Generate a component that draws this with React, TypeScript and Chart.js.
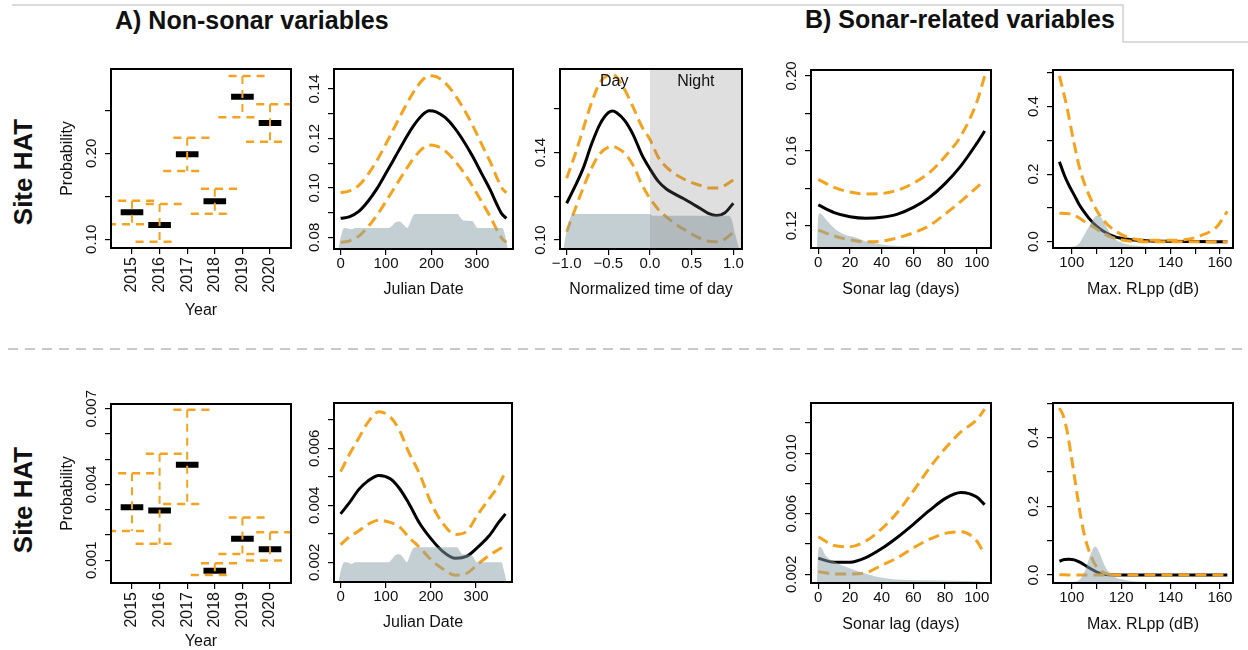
import React, { useEffect, useRef } from "react";
import { Chart, registerables } from "chart.js";

Chart.register(...registerables);

const FONT = '"Liberation Sans", Arial, Helvetica, sans-serif';
const ORANGE = "#f5a31e";
const GRAY = "rgba(138,160,168,0.5)";
const NIGHT = "rgba(120,120,120,0.24)";

// ---------- Year effect ----------
const years = [2015, 2016, 2017, 2018, 2019, 2020];
const yearTickLabels = ["2015", "2016", "2017", "2018", "2019", "2020"];
const yearEstTop = [0.1314, 0.1166, 0.1988, 0.1442, 0.2658, 0.2352];
const yearUpTop = [0.1449, 0.141, 0.2181, 0.1588, 0.2899, 0.257];
const yearLoTop = [0.1174, 0.0972, 0.1794, 0.1298, 0.2419, 0.2135];
const yearEstBot = [0.0031, 0.00297, 0.00478, 0.00059, 0.00185, 0.00144];
const yearUpBot = [0.00445, 0.00522, 0.00696, 0.00088, 0.00269, 0.00211];
const yearLoBot = [0.00216, 0.00165, 0.00323, 0.00042, 0.00125, 0.00099];

// ---------- Julian date ----------
const julXTop = [0, 20, 40, 60, 80, 100, 120, 140, 160, 180, 195, 210, 230, 250, 270, 290, 310, 330, 345, 355, 365];
const julFitTop = [0.0877, 0.0884, 0.0905, 0.0945, 0.0997, 0.106, 0.1125, 0.119, 0.125, 0.1295, 0.1312, 0.1308, 0.1285, 0.1245, 0.1192, 0.113, 0.106, 0.099, 0.093, 0.0895, 0.0877];
const julUpTop = [0.098, 0.0988, 0.101, 0.1054, 0.1111, 0.1179, 0.125, 0.1321, 0.1386, 0.1436, 0.1454, 0.145, 0.1425, 0.1381, 0.1323, 0.1256, 0.1179, 0.1103, 0.1038, 0.1, 0.098];
const julLoTop = [0.078, 0.0786, 0.0805, 0.0842, 0.0889, 0.0946, 0.1005, 0.1063, 0.1118, 0.1159, 0.1174, 0.117, 0.115, 0.1113, 0.1065, 0.1009, 0.0946, 0.0882, 0.0827, 0.0796, 0.078];
const julGrayX = [-5, 2, 8, 16, 24, 32, 106, 114, 122, 130, 138, 147, 153, 160, 166, 258, 264, 270, 290, 296, 302, 356, 362, 368];
const julGrayTop = [0.0755, 0.0815, 0.0838, 0.0836, 0.0832, 0.0838, 0.0838, 0.0848, 0.0862, 0.0864, 0.0852, 0.0838, 0.086, 0.089, 0.0895, 0.0895, 0.088, 0.0868, 0.0866, 0.085, 0.0838, 0.0838, 0.081, 0.0755];
const julXBot = [0, 20, 40, 60, 85, 110, 130, 150, 175, 200, 225, 255, 280, 305, 330, 350, 365];
const julFitBot = [0.0037, 0.0041, 0.00455, 0.00485, 0.00505, 0.00493, 0.0046, 0.0041, 0.00337, 0.00283, 0.0024, 0.00214, 0.00222, 0.00255, 0.00295, 0.0034, 0.0037];
const julUpBot = [0.00518, 0.0058, 0.00635, 0.0069, 0.00728, 0.0071, 0.00664, 0.0059, 0.0051, 0.0041, 0.0034, 0.00298, 0.0031, 0.0037, 0.00425, 0.0047, 0.00518];
const julLoBot = [0.00262, 0.0029, 0.0031, 0.00333, 0.00348, 0.0034, 0.00325, 0.0029, 0.00252, 0.0021, 0.00178, 0.00155, 0.00162, 0.00195, 0.00225, 0.00245, 0.0026];
const julGrayBot = [0.0013, 0.0018, 0.002, 0.00199, 0.00194, 0.002, 0.002, 0.00212, 0.00226, 0.00228, 0.00218, 0.002, 0.00222, 0.00248, 0.00253, 0.00253, 0.0024, 0.00228, 0.00226, 0.00212, 0.002, 0.002, 0.0017, 0.0013];

// ---------- Normalized time of day ----------
const todX = [-1.0, -0.9, -0.8, -0.7, -0.6, -0.5, -0.45, -0.4, -0.3, -0.2, -0.1, 0.0, 0.1, 0.2, 0.3, 0.4, 0.5, 0.6, 0.7, 0.8, 0.9, 1.0];
const todFit = [0.1168, 0.1245, 0.133, 0.144, 0.153, 0.1582, 0.159, 0.1582, 0.1545, 0.148, 0.1392, 0.1325, 0.1268, 0.1232, 0.121, 0.119, 0.1168, 0.1145, 0.1122, 0.1112, 0.1125, 0.1168];
const todUp = [0.1282, 0.139, 0.151, 0.163, 0.172, 0.1755, 0.1758, 0.1745, 0.1685, 0.1605, 0.152, 0.146, 0.1378, 0.1332, 0.1302, 0.128, 0.1262, 0.125, 0.1238, 0.1238, 0.125, 0.1275];
const todLo = [0.1038, 0.114, 0.124, 0.133, 0.1395, 0.1425, 0.1428, 0.1422, 0.1395, 0.134, 0.1255, 0.119, 0.114, 0.1105, 0.1075, 0.105, 0.1028, 0.1008, 0.0995, 0.0992, 0.1005, 0.1035];
const todGrayX = [-1.04, -1.0, -0.96, -0.92, 0.0, 0.03, 0.94, 0.98, 1.02, 1.07];
const todGray = [0.0959, 0.104, 0.11, 0.1119, 0.1119, 0.1111, 0.1111, 0.1095, 0.103, 0.0959];
const nightRange = [0, 1.104];

// ---------- Sonar lag ----------
const lagX = [0, 10, 20, 30, 40, 50, 60, 70, 80, 90, 100, 105];
const lagFitTop = [0.1311, 0.127, 0.1248, 0.124, 0.1245, 0.1262, 0.1298, 0.135, 0.1425, 0.152, 0.164, 0.1706];
const lagUpTop = [0.1448, 0.1405, 0.138, 0.137, 0.1372, 0.139, 0.1427, 0.1483, 0.157, 0.168, 0.186, 0.2];
const lagLoTop = [0.1177, 0.1145, 0.1124, 0.1114, 0.1118, 0.1135, 0.1162, 0.12, 0.1262, 0.133, 0.1405, 0.1444];
const lagGrayX = [-0.8, 0, 1, 5, 11, 17, 22, 30, 40, 55, 80, 108];
const lagGrayTop = [0.1081, 0.125, 0.1266, 0.1232, 0.118, 0.1152, 0.1141, 0.1117, 0.11, 0.109, 0.1086, 0.1083];
const lagFitBot = [0.00306, 0.0028, 0.0028, 0.0031, 0.0037, 0.00445, 0.0053, 0.0062, 0.007, 0.0074, 0.0071, 0.0066];
const lagUpBot = [0.00448, 0.0039, 0.00382, 0.0042, 0.005, 0.0061, 0.0075, 0.009, 0.0103, 0.0114, 0.0122, 0.0129];
const lagLoBot = [0.00217, 0.00203, 0.00202, 0.0021, 0.0026, 0.0031, 0.00375, 0.0043, 0.0047, 0.00481, 0.0042, 0.0033];
const lagGrayBotX = [-0.8, 0, 1, 5, 10, 16, 26, 37, 47, 68, 105, 109];
const lagGrayBot = [0.00143, 0.0036, 0.00382, 0.0032, 0.00285, 0.00255, 0.00217, 0.00184, 0.00167, 0.0016, 0.0015, 0.00145];

// ---------- Max. RLpp ----------
const rlFitTopX = [95, 97, 99, 101, 103, 105, 107, 110, 113, 116, 120, 125, 130, 140, 150, 163];
const rlFitTop = [0.237, 0.197, 0.165, 0.138, 0.11, 0.088, 0.069, 0.046, 0.03, 0.019, 0.01, 0.005, 0.003, 0.001, 0.0005, 0.0];
const rlUpTopX = [95, 98, 100.7, 103.4, 106.7, 110, 113, 117, 123, 130, 140, 147, 153, 158.7, 163];
const rlUpTop = [0.491, 0.4, 0.3, 0.212, 0.143, 0.094, 0.062, 0.035, 0.012, 0.005, 0.004, 0.007, 0.02, 0.044, 0.09];
const rlLoTopX = [95, 99, 101, 103.4, 106, 108.7, 112, 115.5, 119, 122.3, 130, 163];
const rlLoTop = [0.084, 0.083, 0.078, 0.069, 0.055, 0.044, 0.028, 0.015, 0.007, 0.003, 0.0, 0.0];
const rlGrayTopX = [95, 100, 103, 105, 107, 109, 110.5, 112, 114, 116, 118, 121, 126, 135, 150, 163];
const rlGrayTop = [-0.0187, -0.015, -0.005, 0.02, 0.045, 0.07, 0.078, 0.07, 0.045, 0.02, 0.005, -0.005, -0.012, -0.016, -0.018, -0.0187];
const rlFitBotX = [95, 97, 99, 101, 103, 105, 107, 109, 111, 113, 115, 120, 163];
const rlFitBot = [0.04, 0.045, 0.046, 0.044, 0.038, 0.03, 0.021, 0.013, 0.006, 0.002, 0.0005, 0.0, 0.0];
const rlUpBotX = [95, 96.5, 98, 99.5, 101, 102.5, 104, 105.5, 107, 109, 111, 114, 118];
const rlUpBot = [0.486, 0.465, 0.423, 0.36, 0.29, 0.22, 0.155, 0.105, 0.07, 0.036, 0.016, 0.004, 0.0];
const rlLoBotX = [95, 100, 163];
const rlLoBot = [0.001, 0.0, 0.0];
const rlGrayBotX = [95, 101, 103.5, 105.5, 107.5, 109.5, 111.5, 113.5, 115.5, 118, 122, 130, 163];
const rlGrayBot = [-0.0233, -0.02, -0.012, 0.015, 0.058, 0.083, 0.06, 0.025, 0.005, -0.008, -0.015, -0.02, -0.0233];

// ---------- Axis ticks ----------
const yTicksP1 = [0.1, 0.15, 0.2, 0.25];
const yLabelsP1 = ["0.10", "", "0.20", ""];
const yTicksP2 = [0.08, 0.09, 0.1, 0.11, 0.12, 0.13, 0.14];
const yLabelsP2 = ["0.08", "", "0.10", "", "0.12", "", "0.14"];
const yTicksP3 = [0.1, 0.12, 0.14, 0.16];
const yLabelsP3 = ["0.10", "", "0.14", ""];
const yTicksP4 = [0.12, 0.14, 0.16, 0.18, 0.2];
const yLabelsP4 = ["0.12", "", "0.16", "", "0.20"];
const yTicksRL = [0, 0.1, 0.2, 0.3, 0.4, 0.5];
const yLabelsRL = ["0.0", "", "0.2", "", "0.4", ""];
const yTicksP6 = [0.001, 0.002, 0.003, 0.004, 0.005, 0.006, 0.007];
const yLabelsP6 = ["0.001", "", "", "0.004", "", "", "0.007"];
const yTicksP7 = [0.002, 0.003, 0.004, 0.005, 0.006, 0.007];
const yLabelsP7 = ["0.002", "", "0.004", "", "0.006", ""];
const yTicksP8 = [0.002, 0.004, 0.006, 0.008, 0.01, 0.012];
const yLabelsP8 = ["0.002", "", "0.006", "", "0.010", ""];
const xTicksJul = [0, 100, 200, 300];
const xLabelsJul = ["0", "100", "200", "300"];
const xTicksTod = [-1, -0.5, 0, 0.5, 1];
const xLabelsTod = ["\u22121.0", "\u22120.5", "0.0", "0.5", "1.0"];
const xTicksLag = [0, 20, 40, 60, 80, 100];
const xLabelsLag = ["0", "20", "40", "60", "80", "100"];
const xTicksRL = [100, 110, 120, 130, 140, 150, 160];
const xLabelsRL = ["100", "", "120", "", "140", "", "160"];

// ---------- dataset builders ----------
const pts = (xs: number[], ys: number[]) => xs.map((x, i) => ({ x, y: ys[i] }));
const fitLine = (xs: number[], ys: number[]) => ({
  data: pts(xs, ys), borderColor: "#000", borderWidth: 3, pointRadius: 0, fill: false,
  cubicInterpolationMode: "monotone", order: 2, clip: 0,
});
const ciLine = (xs: number[], ys: number[]) => ({
  data: pts(xs, ys), borderColor: ORANGE, borderWidth: 3, borderDash: [11, 6], pointRadius: 0, fill: false,
  cubicInterpolationMode: "monotone", order: 1, clip: 0,
});
const grayArea = (xs: number[], ys: number[]) => ({
  data: pts(xs, ys), fill: "start", backgroundColor: GRAY, borderColor: "rgba(0,0,0,0)", borderWidth: 0,
  pointRadius: 0, cubicInterpolationMode: "monotone", order: 0, clip: 0,
});
function yearSets(est: number[], up: number[], lo: number[]) {
  const seg = (f: (yr: number, i: number) => { x: number; y: number | null }[]) =>
    years.flatMap((yr, i) => [...f(yr, i), { x: yr + 0.01, y: null }]);
  const dashStyle = { borderColor: ORANGE, borderWidth: 2.5, borderDash: [8, 6], pointRadius: 0, fill: false, tension: 0, order: 1, clip: 0, spanGaps: false };
  return [
    { data: seg((yr, i) => [{ x: yr - 0.41, y: est[i] }, { x: yr + 0.41, y: est[i] }]), borderColor: "#000", borderWidth: 6, pointRadius: 0, fill: false, tension: 0, order: 2, clip: 0, spanGaps: false },
    { data: seg((yr, i) => [{ x: yr - 0.5, y: up[i] }, { x: yr + 0.85, y: up[i] }]), ...dashStyle },
    { data: seg((yr, i) => [{ x: yr - 0.87, y: lo[i] }, { x: yr + 0.5, y: lo[i] }]), ...dashStyle },
    { data: seg((yr, i) => [{ x: yr, y: up[i] }, { x: yr, y: lo[i] }]), ...dashStyle, borderWidth: 2 },
  ];
}

type Spec = {
  box: [number, number, number, number];
  x: [number, number]; y: [number, number];
  xTicks: number[]; xLabels: string[]; yTicks: number[]; yLabels: string[];
  xTitle: string; xTitleOff: number; yTitle?: string; rotX?: boolean;
  datasets: any[]; night?: number[]; dayNight?: boolean;
};

const panels: Spec[] = [
  { box: [111, 69, 180, 179], x: [2014.24, 2020.76], y: [0.0899, 0.298], xTicks: years, xLabels: yearTickLabels, yTicks: yTicksP1, yLabels: yLabelsP1, xTitle: "Year", xTitleOff: 63, yTitle: "Probability", rotX: true, datasets: yearSets(yearEstTop, yearUpTop, yearLoTop) },
  { box: [334, 69, 179, 180], x: [-14.6, 379.6], y: [0.0753, 0.1481], xTicks: xTicksJul, xLabels: xLabelsJul, yTicks: yTicksP2, yLabels: yLabelsP2, xTitle: "Julian Date", xTitleOff: 41,
    datasets: [fitLine(julXTop, julFitTop), ciLine(julXTop, julUpTop), ciLine(julXTop, julLoTop), grayArea(julGrayX, julGrayTop)] },
  { box: [560, 69, 182, 180], x: [-1.08, 1.104], y: [0.0959, 0.1782], xTicks: xTicksTod, xLabels: xLabelsTod, yTicks: yTicksP3, yLabels: yLabelsP3, xTitle: "Normalized time of day", xTitleOff: 41, night: nightRange, dayNight: true,
    datasets: [fitLine(todX, todFit), ciLine(todX, todUp), ciLine(todX, todLo), grayArea(todGrayX, todGray)] },
  { box: [811, 70, 180, 178], x: [-4.6, 109.0], y: [0.1081, 0.2032], xTicks: xTicksLag, xLabels: xLabelsLag, yTicks: yTicksP4, yLabels: yLabelsP4, xTitle: "Sonar lag (days)", xTitleOff: 42,
    datasets: [fitLine(lagX, lagFitTop), ciLine(lagX, lagUpTop), ciLine(lagX, lagLoTop), grayArea(lagGrayX, lagGrayTop)] },
  { box: [1053, 70, 180, 178], x: [92.4, 165.3], y: [-0.0187, 0.5087], xTicks: xTicksRL, xLabels: xLabelsRL, yTicks: yTicksRL, yLabels: yLabelsRL, xTitle: "Max. RLpp (dB)", xTitleOff: 42,
    datasets: [fitLine(rlFitTopX, rlFitTop), ciLine(rlUpTopX, rlUpTop), ciLine(rlLoTopX, rlLoTop), grayArea(rlGrayTopX, rlGrayTop)] },
  { box: [111, 404, 180, 179], x: [2014.24, 2020.76], y: [0.0001, 0.00719], xTicks: years, xLabels: yearTickLabels, yTicks: yTicksP6, yLabels: yLabelsP6, xTitle: "Year", xTitleOff: 59, yTitle: "Probability", rotX: true, datasets: yearSets(yearEstBot, yearUpBot, yearLoBot) },
  { box: [334, 403, 178, 179], x: [-14.6, 379.6], y: [0.00131, 0.00759], xTicks: xTicksJul, xLabels: xLabelsJul, yTicks: yTicksP7, yLabels: yLabelsP7, xTitle: "Julian Date", xTitleOff: 41,
    datasets: [fitLine(julXBot, julFitBot), ciLine(julXBot, julUpBot), ciLine(julXBot, julLoBot), grayArea(julGrayX, julGrayBot)] },
  { box: [811, 403, 180, 180], x: [-4.6, 109.0], y: [0.001426, 0.01331], xTicks: xTicksLag, xLabels: xLabelsLag, yTicks: yTicksP8, yLabels: yLabelsP8, xTitle: "Sonar lag (days)", xTitleOff: 42,
    datasets: [fitLine(lagX, lagFitBot), ciLine(lagX, lagUpBot), ciLine(lagX, lagLoBot), grayArea(lagGrayBotX, lagGrayBot)] },
  { box: [1053, 403, 180, 180], x: [92.4, 165.3], y: [-0.0233, 0.501], xTicks: xTicksRL, xLabels: xLabelsRL, yTicks: yTicksRL, yLabels: yLabelsRL, xTitle: "Max. RLpp (dB)", xTitleOff: 42,
    datasets: [fitLine(rlFitBotX, rlFitBot), ciLine(rlUpBotX, rlUpBot), ciLine(rlLoBotX, rlLoBot), grayArea(rlGrayBotX, rlGrayBot)] },
];

const ML = 62, MR = 14, MT = 24, MB = 80, TICK = 6;

function decor(spec: Spec) {
  return {
    id: "decor",
    afterDatasetsDraw(chart: any) {
      const { ctx, chartArea: a, scales } = chart;
      const xs = scales.x, ys = scales.y;
      ctx.save();
      if (spec.night) {
        const x0 = xs.getPixelForValue(spec.night[0]);
        const x1 = Math.min(xs.getPixelForValue(spec.night[1]), a.right);
        ctx.fillStyle = NIGHT;
        ctx.fillRect(x0, a.top, x1 - x0, a.bottom - a.top);
      }
      ctx.strokeStyle = "#000";
      ctx.lineWidth = 2;
      ctx.strokeRect(a.left, a.top, a.right - a.left, a.bottom - a.top);
      ctx.fillStyle = "#111";
      spec.xTicks.forEach((v, i) => {
        const lab = spec.xLabels[i];
        if (!lab) return;
        const px = xs.getPixelForValue(v);
        if (spec.rotX) {
          ctx.font = `16px ${FONT}`;
          ctx.save();
          ctx.translate(px, a.bottom + 9);
          ctx.rotate(-Math.PI / 2);
          ctx.textAlign = "right";
          ctx.textBaseline = "middle";
          ctx.fillText(lab, 0, 0);
          ctx.restore();
        } else {
          ctx.font = `15px ${FONT}`;
          ctx.textAlign = "center";
          ctx.textBaseline = "middle";
          ctx.fillText(lab, px, a.bottom + 15);
        }
      });
      ctx.font = `15px ${FONT}`;
      spec.yTicks.forEach((v, i) => {
        const lab = spec.yLabels[i];
        if (!lab) return;
        const py = ys.getPixelForValue(v);
        ctx.save();
        ctx.translate(a.left - 19, py);
        ctx.rotate(-Math.PI / 2);
        ctx.textAlign = "center";
        ctx.textBaseline = "middle";
        ctx.fillText(lab, 0, 0);
        ctx.restore();
      });
      ctx.font = `16px ${FONT}`;
      ctx.textAlign = "center";
      ctx.textBaseline = "middle";
      ctx.fillText(spec.xTitle, (a.left + a.right) / 2, a.bottom + spec.xTitleOff);
      if (spec.yTitle) {
        ctx.save();
        ctx.translate(a.left - 43, (a.top + a.bottom) / 2);
        ctx.rotate(-Math.PI / 2);
        ctx.fillText(spec.yTitle, 0, 0);
        ctx.restore();
      }
      if (spec.dayNight) {
        ctx.fillText("Day", xs.getPixelForValue(-0.43), a.top + 13);
        ctx.fillText("Night", xs.getPixelForValue(0.55), a.top + 13);
      }
      ctx.restore();
    },
  };
}

function Panel({ spec }: { spec: Spec }) {
  const ref = useRef<HTMLCanvasElement>(null);
  const [bx, by, bw, bh] = spec.box;
  const W = bw + ML + MR, H = bh + MT + MB;
  useEffect(() => {
    const axis = (min: number, max: number, ticks: number[]) => ({
      type: "linear", min, max,
      border: { display: false },
      grid: { drawOnChartArea: false, drawTicks: true, tickLength: TICK, color: "#000", lineWidth: 1.2 },
      ticks: { display: false },
      afterBuildTicks: (s: any) => { s.ticks = ticks.map((v) => ({ value: v })); },
    });
    const chart = new Chart(ref.current as HTMLCanvasElement, {
      type: "line",
      data: { datasets: spec.datasets },
      options: {
        responsive: false, animation: false, devicePixelRatio: 1, events: [],
        layout: { padding: { left: ML - TICK, right: MR, top: MT, bottom: MB - TICK } },
        plugins: { legend: { display: false }, tooltip: { enabled: false } },
        scales: { x: axis(spec.x[0], spec.x[1], spec.xTicks), y: axis(spec.y[0], spec.y[1], spec.yTicks) },
      } as any,
      plugins: [decor(spec)],
    });
    return () => chart.destroy();
  }, []);
  return (
    <canvas ref={ref} width={W} height={H}
      style={{ position: "absolute", left: bx - ML, top: by - MT, width: W, height: H }} />
  );
}

export default function App() {
  const title = { position: "absolute" as const, font: `bold 25px ${FONT}`, lineHeight: "25px", whiteSpace: "nowrap" as const, color: "#111" };
  const site = { ...title, font: `bold 26px ${FONT}`, transform: "translate(-50%, -50%) rotate(-90deg)" };
  return (
    <div style={{ position: "fixed", left: 0, top: 0, width: 1248, height: 650, overflow: "hidden", background: "#fff", fontFamily: FONT }}>
      <svg width={1248} height={650} style={{ position: "absolute", left: 0, top: 0 }}>
        <polyline points="12,5 1123,5 1123,42 1248,42" fill="none" stroke="#d0d0d0" strokeWidth={1.5} />
        <line x1={8} y1={349} x2={1242} y2={349} stroke="#b8b8b8" strokeWidth={1.5} strokeDasharray="10 7" />
      </svg>
      <div style={{ ...title, left: 115, top: 8 }}>A) Non-sonar variables</div>
      <div style={{ ...title, left: 805, top: 7 }}>B) Sonar-related variables</div>
      <div style={{ ...site, left: 23, top: 172 }}>Site HAT</div>
      <div style={{ ...site, left: 23, top: 500 }}>Site HAT</div>
      {panels.map((p, i) => <Panel key={i} spec={p} />)}
    </div>
  );
}
